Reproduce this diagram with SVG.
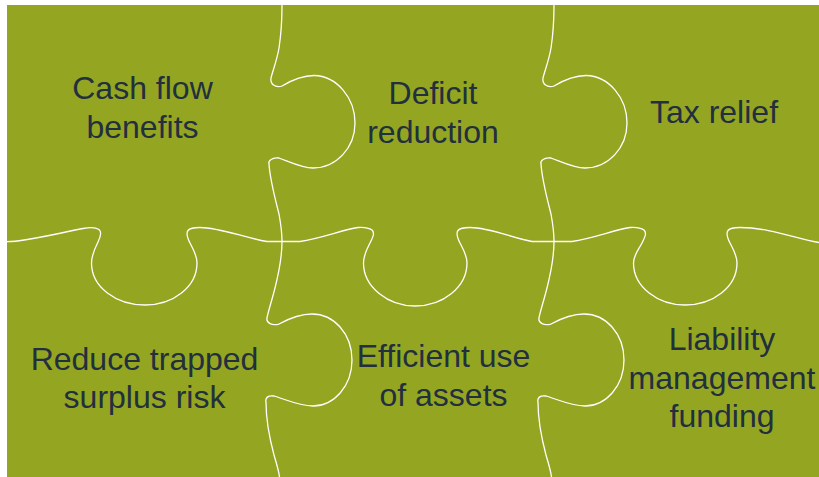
<svg xmlns="http://www.w3.org/2000/svg" width="819" height="477" viewBox="0 0 819 477">
  <style>
    .board { fill: #94a621; }
    .cut { fill: none; stroke: #ffffff; stroke-width: 1.3; stroke-linejoin: round; stroke-linecap: round; }
    .label { font-family: "Liberation Sans", Arial, sans-serif; font-size: 32px; fill: #222f3e; text-anchor: middle; }
  </style>
  <defs>
    <!-- upper vertical cut with a knob pointing right -->
    <path id="cut-upper" d="M282,5 C282,22 281,35 279,48 C277,60 273,70 271,78 C270,84 275,88 282,86 C292,80 302,75.5 314,75.5 C337,76 355,98 355,123 C355,148 336,168 313,168 C302,168 290,162 279,158 C272,157 268,161 269,164 C270,180 275,198 279,214 C281,225 282,235 282,241.5"/>
    <!-- lower vertical cut with a knob pointing right -->
    <path id="cut-lower" d="M282,241.5 C282,256 279,272 275,288 C272,300 268,312 267,318 C266,323 272,326 279,324 C290,318 300,314 312,314 C334,314 352,334 352,360 C352,386 334,406 313,406 C300,406 287,400 274,396 C268,395 265,398 266,402 C266,420 270,440 274,455 C277,465 279,472 279.5,477"/>
  </defs>

  <rect class="board" x="7" y="5" width="812" height="472"/>

  <g id="connectors">
    <!-- horizontal cut with three knobs pointing down -->
    <path class="cut" d="M7,241.7 C25,241.7 55,234 83,228.5 C91,227 96,227.5 99,229.5 C102,232 101,236 98,242 C95,248 91.5,255 91.5,263 C91.5,287 116,305 145,305 C173,305 197,287 197,263 C197,255 193,249 190,243 C187,237 186,233 188,230.5 C190,228 194,227.5 200,227.5 C220,227.5 245,238 267,241.5 L300,241.5 C322,238 342,230 358,227.5 C365,227 369,228 372,230 C375,233 373,237 370,243 C367,249 363.5,255 363.5,263 C363.5,287 388,306 415,306 C443,306 467,287 467,263 C467,255 463,249 460,243 C457,237 456,233 458,230.5 C460,228 464,227.5 470,227.5 C490,227.5 512,238 532,241.5 L572,241.5 C594,238 614,230 630,227.5 C637,227 641,228 644,230 C647,233 645,237 642,243 C639,249 633.5,255 633.5,263 C633.5,287 658,305 685,305 C713,305 737,287 737,263 C737,255 733,249 730,243 C727,237 726,233 728,230.5 C730,228 734,227.5 740,227.5 C770,227.5 800,240 819,242.5"/>
    <use href="#cut-upper" class="cut"/>
    <use href="#cut-upper" class="cut" transform="translate(272,0)"/>
    <use href="#cut-lower" class="cut"/>
    <use href="#cut-lower" class="cut" transform="translate(272,0)"/>
  </g>

  <g id="piece-cash-flow">
    <text class="label" x="142.5" y="99">Cash flow</text>
    <text class="label" x="142.5" y="137.5">benefits</text>
  </g>
  <g id="piece-deficit">
    <text class="label" x="433" y="104">Deficit</text>
    <text class="label" x="433" y="142.5">reduction</text>
  </g>
  <g id="piece-tax">
    <text class="label" x="714" y="122.5">Tax relief</text>
  </g>
  <g id="piece-trapped-surplus">
    <text class="label" x="144.5" y="369.5">Reduce trapped</text>
    <text class="label" x="144.5" y="407.5">surplus risk</text>
  </g>
  <g id="piece-assets">
    <text class="label" x="443.5" y="367">Efficient use</text>
    <text class="label" x="443.5" y="405.5">of assets</text>
  </g>
  <g id="piece-liability">
    <text class="label" x="722" y="349.5">Liability</text>
    <text class="label" x="722" y="388.5">management</text>
    <text class="label" x="722" y="427">funding</text>
  </g>
</svg>
